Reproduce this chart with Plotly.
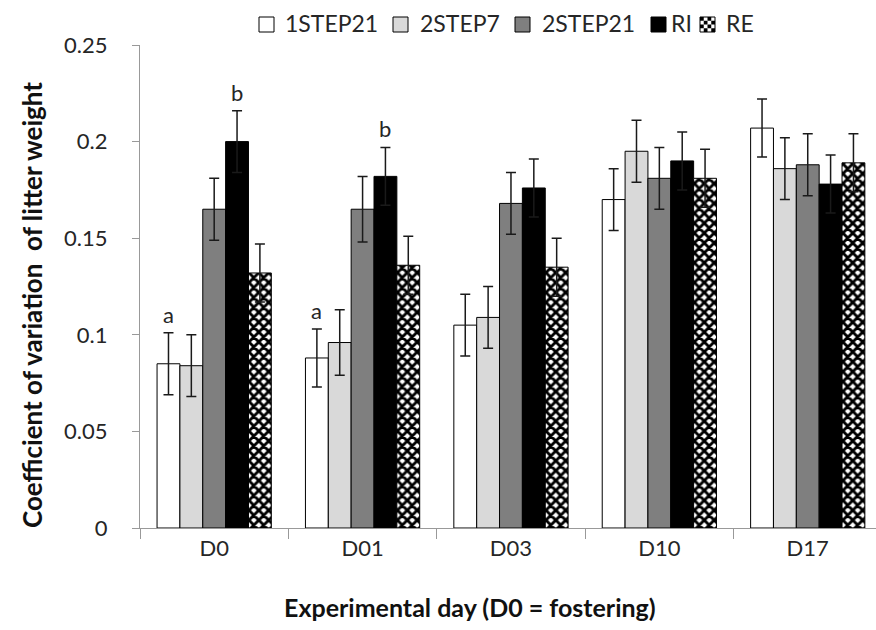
import plotly.graph_objects as go

days = ["D0", "D01", "D03", "D10", "D17"]
series = ["1STEP21", "2STEP7", "2STEP21", "RI", "RE"]
values = {
    "1STEP21": [0.085, 0.088, 0.105, 0.170, 0.207],
    "2STEP7":  [0.084, 0.096, 0.109, 0.195, 0.186],
    "2STEP21": [0.165, 0.165, 0.168, 0.181, 0.188],
    "RI":      [0.200, 0.182, 0.176, 0.190, 0.178],
    "RE":      [0.132, 0.136, 0.135, 0.181, 0.189],
}
errors = {
    "1STEP21": [0.016, 0.015, 0.016, 0.016, 0.015],
    "2STEP7":  [0.016, 0.017, 0.016, 0.016, 0.016],
    "2STEP21": [0.016, 0.017, 0.016, 0.016, 0.016],
    "RI":      [0.016, 0.015, 0.015, 0.015, 0.015],
    "RE":      [0.015, 0.015, 0.015, 0.015, 0.015],
}
fills = {"1STEP21": "#ffffff", "2STEP7": "#d9d9d9", "2STEP21": "#7f7f7f", "RI": "#000000", "RE": "#ffffff"}
letters = [("D0", "1STEP21", "a"), ("D0", "RI", "b"), ("D01", "1STEP21", "a"), ("D01", "RI", "b")]

# layout geometry (pixels)
W, H = 876, 630
ML, MR, MT, MB = 140, 0, 45, 102
PW, PH = W - ML - MR, H - MT - MB
def px(x):
    return (x - ML) / PW
def py(y):
    return (H - MB - y) / PH

# legend layout: (box left px, text center px)
legend_pos = {"1STEP21": (259, 331), "2STEP7": (393, 460), "2STEP21": (515, 588), "RI": (651, 681), "RE": (700, 740)}

FONT = "Lato, 'Open Sans', sans-serif"
TXT = "#262626"
fig = go.Figure()
for s in series:
    marker = dict(color=fills[s], line=dict(color="#000000", width=1))
    if s == "RE":
        marker["pattern"] = dict(shape="x", fgcolor="#000000", bgcolor="#ffffff", size=7,
                                 solidity=0.65, fgopacity=1, fillmode="replace")
    fig.add_trace(go.Bar(
        name=s, x=days, y=values[s], marker=marker, showlegend=False,
        error_y=dict(type="data", array=errors[s], color="#1a1a1a", thickness=1.5, width=5),
    ))

n = len(series)
bargap = 0.23
bw = (1 - bargap) / n
for day, s, txt in letters:
    i = days.index(day)
    k = series.index(s)
    xpos = i - (1 - bargap) / 2 + bw * (k + 0.5)
    ytop = values[s][i] + errors[s][i]
    fig.add_annotation(x=xpos, y=ytop, text=txt, showarrow=False, yanchor="bottom", yshift=3,
                       font=dict(family=FONT, size=22, color=TXT))

# manual legend
BOX = 15
ytop_px, ybot_px = 17, 17 + BOX
for s in series:
    bx, tx = legend_pos[s]
    fig.add_shape(type="rect", xref="paper", yref="paper",
                  x0=px(bx), x1=px(bx + BOX), y0=py(ybot_px), y1=py(ytop_px),
                  fillcolor=fills[s], line=dict(color="#000000", width=1))
    if s == "RE":
        c = BOX / 4
        for r in range(4):
            for q in range(4):
                if (r + q) % 2 == 0:
                    fig.add_shape(type="rect", xref="paper", yref="paper",
                                  x0=px(bx + q * c), x1=px(bx + (q + 1) * c),
                                  y0=py(ytop_px + (r + 1) * c), y1=py(ytop_px + r * c),
                                  fillcolor="#000000", line=dict(width=0))
    fig.add_annotation(xref="paper", yref="paper", x=px(tx), y=py(ytop_px + BOX / 2 - 1),
                       text=s, showarrow=False, xanchor="center", yanchor="middle",
                       font=dict(family=FONT, size=23, color=TXT))

# axis titles as annotations
fig.add_annotation(xref="paper", yref="paper", x=px(470), y=py(607), xanchor="center", yanchor="middle",
                   text="<b>Experimental day (D0 = fostering)</b>", showarrow=False,
                   font=dict(family=FONT, size=25, color="#111111"))
fig.add_annotation(xref="paper", yref="paper", x=px(32), y=py(305), xanchor="center", yanchor="middle",
                   text="<b>Coefficient of variation&nbsp; of litter weight</b>", showarrow=False, textangle=-90,
                   font=dict(family=FONT, size=26, color="#111111"))

fig.update_layout(
    width=W, height=H,
    margin=dict(l=ML, r=MR, t=MT, b=MB),
    paper_bgcolor="white", plot_bgcolor="white",
    barmode="group", bargap=bargap, bargroupgap=0,
    font=dict(family=FONT, color=TXT),
    showlegend=False,
)
fig.update_xaxes(
    range=[-0.5, 4.46],
    showline=True, linecolor="#999999", linewidth=1.3,
    ticks="outside", tickson="boundaries", ticklen=10, tickcolor="#999999",
    tickfont=dict(family=FONT, size=22, color=TXT),
)
fig.update_yaxes(
    range=[0, 0.25], dtick=0.05, tickformat="~g",
    showline=True, linecolor="#999999", linewidth=1.3,
    ticks="outside", ticklen=7, tickcolor="#999999", showgrid=False, zeroline=False,
    tickfont=dict(family=FONT, size=22, color=TXT), ticklabelstandoff=20,
)
fig.write_html("out.html")
